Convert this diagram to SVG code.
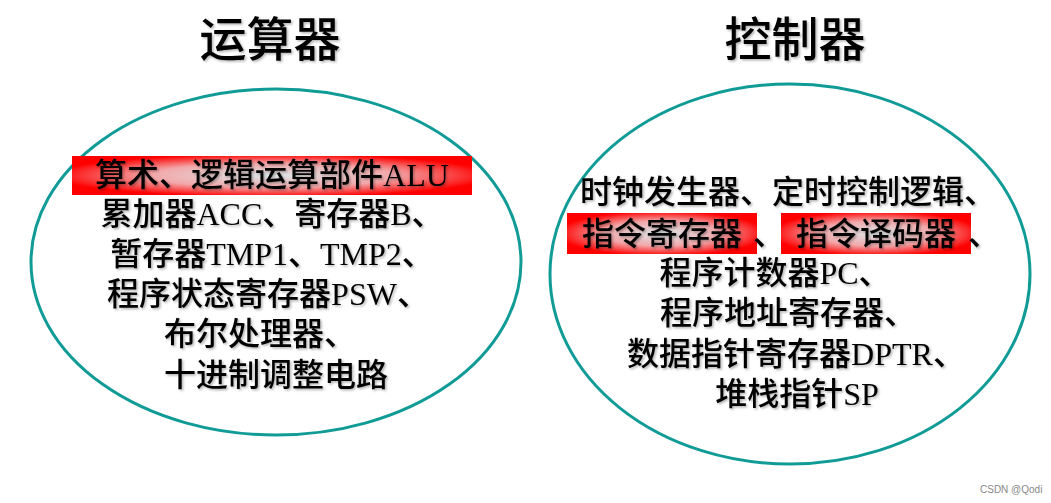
<svg xmlns="http://www.w3.org/2000/svg" width="1051" height="503" viewBox="0 0 1051 503">
<style>
.t{font-family:"Liberation Serif","Noto Sans CJK SC",serif;font-size:32px;font-weight:500;fill:#000;text-anchor:middle;dominant-baseline:central}
.h{font-family:"Liberation Serif","Noto Sans CJK SC",serif;font-size:47px;font-weight:500;fill:#000;text-anchor:middle;dominant-baseline:central}
.e{fill:none;stroke:#109b97;stroke-width:3}
.w{font-family:"Liberation Sans",sans-serif;font-size:10px;fill:#888}
</style>
<defs>
<radialGradient id="rg" cx="0.5" cy="0.5" r="0.55">
<stop offset="0" stop-color="#dde8ea"/>
<stop offset="0.55" stop-color="#f2a8aa"/>
<stop offset="1" stop-color="#ff0000"/>
</radialGradient>
<filter id="sh" x="-5%" y="-5%" width="110%" height="120%">
<feDropShadow dx="1.5" dy="1.5" stdDeviation="0.8" flood-color="#000" flood-opacity="0.3"/>
</filter>
</defs>
<rect width="1051" height="503" fill="#fff"/>
<g id="alu-unit">
<ellipse class="e" cx="276" cy="262" rx="245" ry="173"/>
<text class="h" x="270" y="40" filter="url(#sh)">运算器</text>
<rect x="72" y="156" width="400" height="39" fill="url(#rg)"/>
<g filter="url(#sh)">
<text class="t" x="272" y="175">算术、逻辑运算部件ALU</text>
<text class="t" x="272" y="214">累加器ACC、寄存器B、</text>
<text class="t" x="272" y="254">暂存器TMP1、TMP2、</text>
<text class="t" x="268" y="294">程序状态寄存器PSW、</text>
<text class="t" x="260" y="334">布尔处理器、</text>
<text class="t" x="276" y="375">十进制调整电路</text>
</g>
</g>
<g id="control-unit">
<ellipse class="e" cx="790" cy="274" rx="240" ry="190"/>
<text class="h" x="795" y="40" filter="url(#sh)">控制器</text>
<rect x="567" y="213" width="190" height="41" fill="url(#rg)"/>
<rect x="781" y="213" width="190" height="41" fill="url(#rg)"/>
<g filter="url(#sh)">
<text class="t" x="788" y="192">时钟发生器、定时控制逻辑、</text>
<text class="t" x="662" y="234">指令寄存器</text>
<text class="t" x="769" y="234">、</text>
<text class="t" x="876" y="234">指令译码器</text>
<text class="t" x="984" y="234">、</text>
<text class="t" x="775" y="273">程序计数器PC、</text>
<text class="t" x="788" y="313">程序地址寄存器、</text>
<text class="t" x="796" y="354">数据指针寄存器DPTR、</text>
<text class="t" x="797" y="394">堆栈指针SP</text>
</g>
</g>
<g id="connectors"></g>
<text class="w" x="980" y="493">CSDN @Qodi</text>
</svg>
